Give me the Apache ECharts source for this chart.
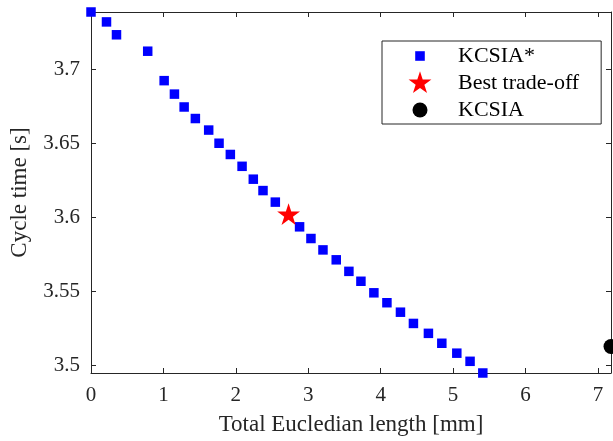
<!DOCTYPE html>
<html><head><meta charset="utf-8">
<script src="https://cdn.jsdelivr.net/npm/echarts@6/dist/echarts.min.js"></script>
<style>html,body{margin:0;padding:0;background:#fff}#c{width:613px;height:441px}</style>
</head><body><div id="c"></div>
<script>
// ---- data ----
const paretoX = [0, 0.214, 0.352, 0.783, 1.010, 1.152, 1.286, 1.441, 1.625, 1.768, 1.924, 2.086, 2.241, 2.375, 2.545,
  2.880, 3.037, 3.203, 3.386, 3.561, 3.727, 3.906, 4.086, 4.273, 4.452, 4.659, 4.844, 5.051, 5.234, 5.410];
const paretoY = [3.7390, 3.7323, 3.7236, 3.7125, 3.6926, 3.6835, 3.6748, 3.6670, 3.6592, 3.6503, 3.6427, 3.6347, 3.6260, 3.6183, 3.6105,
  3.5938, 3.5859, 3.5782, 3.5715, 3.5637, 3.5570, 3.5492, 3.5425, 3.5361, 3.5285, 3.5218, 3.5151, 3.5084, 3.5029, 3.4950];
const bestX = [2.728];
const bestY = [3.6016];
const kcsiaX = [7.18];
const kcsiaY = [3.5129];
const seriesNames = ['KCSIA*', 'Best trade-off', 'KCSIA'];
const xTicks = [0, 1, 2, 3, 4, 5, 6, 7];
const yTicks = [3.5, 3.55, 3.6, 3.65, 3.7];
const xLabel = 'Total Eucledian length [mm]';
const yLabel = 'Cycle time [s]';

// ---- drawing ----
function starPath(cx, cy, R, r) {
  let s = '';
  for (let i = 0; i < 10; i++) {
    const a = -Math.PI / 2 + i * Math.PI / 5;
    const rr = i % 2 ? r : R;
    s += (i ? 'L' : 'M') + (cx + rr * Math.cos(a)).toFixed(2) + ',' + (cy + rr * Math.sin(a)).toFixed(2);
  }
  return s + 'Z';
}
const starSym = 'path://M0,0M24,24' + starPath(12, 12, 12, 12 * 0.382);
const legSquare = 'path://M0,0M45,24M7.2,7.2L16.8,7.2L16.8,16.8L7.2,16.8Z';
const legStar = 'path://M0,0M45,24' + starPath(12, 12.3, 12, 12 * 0.382);
const legCircle = 'path://M0,0M45,24M4.5,12a7.5,7.5 0 1,0 15,0a7.5,7.5 0 1,0 -15,0Z';

const axisCol = '#262626';
const font = 'Liberation Serif';
const xMin = 0, xMax = 7.18, yMin = 3.495, yMax = 3.739;

function zip(a, b) { return a.map((v, i) => [v, b[i]]); }

const baseAxisLine = { show: true, onZero: false, lineStyle: { color: axisCol, width: 1 } };

const option = {
  animation: false,
  grid: { left: 90, right: 2, top: 12, bottom: 65, containLabel: false },
  xAxis: [
    { type: 'value', min: xMin, max: xMax, position: 'bottom',
      axisLine: baseAxisLine,
      axisTick: { show: true, inside: true, length: 5, customValues: xTicks, lineStyle: { color: axisCol } },
      axisLabel: { customValues: xTicks, margin: 12, color: axisCol, fontFamily: font, fontSize: 21 },
      splitLine: { show: false },
      name: xLabel, nameLocation: 'middle', nameGap: 40,
      nameTextStyle: { color: axisCol, fontFamily: font, fontSize: 23 } },
    { type: 'value', min: xMin, max: xMax, position: 'top',
      axisLine: baseAxisLine,
      axisTick: { show: true, inside: true, length: 5, customValues: xTicks, lineStyle: { color: axisCol } },
      axisLabel: { show: false }, splitLine: { show: false } }
  ],
  yAxis: [
    { type: 'value', min: yMin, max: yMax, position: 'left',
      axisLine: baseAxisLine,
      axisTick: { show: true, inside: true, length: 5, customValues: yTicks, lineStyle: { color: axisCol } },
      axisLabel: { customValues: yTicks, margin: 11, color: axisCol, fontFamily: font, fontSize: 21 },
      splitLine: { show: false },
      name: yLabel, nameLocation: 'middle', nameGap: 60,
      nameTextStyle: { color: axisCol, fontFamily: font, fontSize: 23 } },
    { type: 'value', min: yMin, max: yMax, position: 'right',
      axisLine: baseAxisLine,
      axisTick: { show: true, inside: true, length: 5, customValues: yTicks, lineStyle: { color: axisCol } },
      axisLabel: { show: false }, splitLine: { show: false } }
  ],
  legend: {
    orient: 'vertical', left: 382, top: 41,
    itemWidth: 45, itemHeight: 24, itemGap: 3,
    padding: [3, 22, 2, 26],
    borderColor: axisCol, borderWidth: 1, backgroundColor: '#fff',
    selectedMode: false,
    textStyle: { color: '#000', fontFamily: font, fontSize: 22 },
    data: [
      { name: seriesNames[0], icon: legSquare, itemStyle: { opacity: 1 } },
      { name: seriesNames[1], icon: legStar, itemStyle: { opacity: 1 } },
      { name: seriesNames[2], icon: legCircle, itemStyle: { opacity: 1 } }
    ]
  },
  series: [
    { name: seriesNames[0], type: 'scatter', clip: false, symbol: 'rect', symbolSize: 9.5,
      itemStyle: { color: '#0000ff', opacity: 1 }, emphasis: { disabled: true },
      data: zip(paretoX, paretoY), z: 2 },
    { name: seriesNames[1], type: 'scatter', clip: false, symbol: starSym, symbolSize: 24,
      itemStyle: { color: '#ff0000', opacity: 1 }, emphasis: { disabled: true },
      data: zip(bestX, bestY), z: 3 },
    { name: seriesNames[2], type: 'scatter', clip: false, symbol: 'circle', symbolSize: 15,
      itemStyle: { color: '#000000', opacity: 1 }, emphasis: { disabled: true },
      data: zip(kcsiaX, kcsiaY), z: 3 }
  ]
};
const chart = echarts.init(document.getElementById('c'), null, { renderer: 'canvas' });
chart.setOption(option);
</script>
</body></html>
